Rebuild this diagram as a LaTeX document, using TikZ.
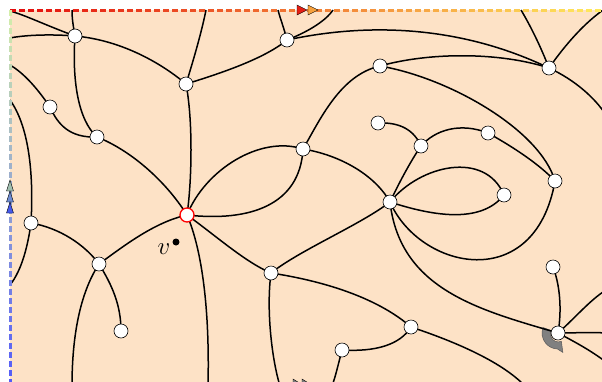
\documentclass[tikz,border=0pt]{standalone}
\usepackage{amsmath,amssymb}
\usepackage{tikz}
\usetikzlibrary{arrows.meta}

\definecolor{peach}{RGB}{253,226,198}
\definecolor{topstart}{RGB}{228,12,12}
\definecolor{topend}{RGB}{255,232,92}
\definecolor{leftstart}{RGB}{212,238,170}
\definecolor{leftend}{RGB}{84,92,248}

\begin{document}
\begin{tikzpicture}[x=1pt,y=-1pt,
    edge/.style={line width=1.5pt},
    vtx/.style={circle,draw,fill=white,line width=0.6pt,minimum size=14pt,inner sep=0pt},
    bord/.style={line width=3pt}]

\useasboundingbox (0,0) rectangle (602,381);
\clip (0,0) rectangle (602,381);

% vertices
\coordinate (a) at (75,36);
\coordinate (b) at (186,84);
\coordinate (c) at (287,40);
\coordinate (d) at (50,107);
\coordinate (e) at (97,137);
\coordinate (f) at (380,66);
\coordinate (g) at (549,68);
\coordinate (h) at (378,123);
\coordinate (i) at (421,146);
\coordinate (j) at (488,133);
\coordinate (k) at (303,149);
\coordinate (l) at (555,181);
\coordinate (m) at (390,202);
\coordinate (n) at (504,195);
\coordinate (o) at (187,215);
\coordinate (p) at (31,223);
\coordinate (q) at (99,264);
\coordinate (r) at (271,273);
\coordinate (s) at (553,267);
\coordinate (t) at (121,331);
\coordinate (u) at (411,327);
\coordinate (w) at (342,350);
\coordinate (x) at (558,333);

% free ends on the border
\coordinate (ca1) at (10,11);
\coordinate (ca2) at (10,38);
\coordinate (ca3) at (72,10);
\coordinate (cb) at (206,10);
\coordinate (cc1) at (278,10);
\coordinate (cc2) at (333,10);
\coordinate (cg1) at (521,10);
\coordinate (cg2) at (606,8);
\coordinate (cg3) at (606,115);
\coordinate (cd) at (10,65);
\coordinate (cp1) at (10,100);
\coordinate (cp2) at (10,285);
\coordinate (cq) at (72,386);
\coordinate (co) at (208,386);
\coordinate (cr) at (280,386);
\coordinate (cw) at (332,386);
\coordinate (cu) at (525,386);
\coordinate (cx1) at (606,290);
\coordinate (cx2) at (606,333);
\coordinate (cx3) at (606,362);

% background
\fill[peach] (10,10) rectangle (610,390);

% turning marker at x
\filldraw[fill=gray, draw=gray!70!black, line width=0.5pt]
    ([shift={(200:8)}]x) -- ([shift={(200:16)}]x) arc (200:92:16)
    -- ([shift={(76:20)}]x) -- ([shift={(68:9)}]x) arc (68:200:8) -- cycle;

% edges
\draw[edge] (a) .. controls (45,25) and (25,15) .. (ca1);
\draw[edge] (a) .. controls (50,34) and (25,35) .. (ca2);
\draw[edge] (a) .. controls (73,25) and (72,18) .. (ca3);
\draw[edge] (a) .. controls (72,80) and (78,120) .. (e);
\draw[edge] (a) .. controls (120,40) and (160,62) .. (b);
\draw[edge] (b) .. controls (195,55) and (202,30) .. (cb);
\draw[edge] (b) .. controls (225,72) and (265,58) .. (c);
\draw[edge] (b) .. controls (193,120) and (192,180) .. (o);
\draw[edge] (c) .. controls (284,28) and (280,18) .. (cc1);
\draw[edge] (c) .. controls (305,33) and (325,22) .. (cc2);
\draw[edge] (c) .. controls (380,20) and (470,30) .. (g);
\draw[edge] (f) .. controls (430,52) and (500,52) .. (g);
\draw[edge] (f) .. controls (450,78) and (540,130) .. (l);
\draw[edge] (g) .. controls (540,45) and (530,25) .. (cg1);
\draw[edge] (g) .. controls (565,45) and (585,22) .. (cg2);
\draw[edge] (g) .. controls (575,80) and (595,98) .. (cg3);
\draw[edge] (d) .. controls (35,85) and (22,72) .. (cd);
\draw[edge] (d) .. controls (58,125) and (70,138) .. (e);
\draw[edge] (cp1) .. controls (28,125) and (34,170) .. (p);
\draw[edge] (p) .. controls (60,228) and (85,245) .. (q);
\draw[edge] (p) .. controls (28,245) and (22,270) .. (cp2);
\draw[edge] (q) .. controls (125,245) and (155,222) .. (o);
\draw[edge] (q) .. controls (112,285) and (121,305) .. (t);
\draw[edge] (q) .. controls (82,290) and (72,330) .. (cq);
\draw[edge] (e) .. controls (130,150) and (165,180) .. (o);
\draw[edge] (o) .. controls (200,245) and (210,300) .. (co);
\draw[edge] (o) .. controls (205,170) and (260,135) .. (k);
\draw[edge] (o) .. controls (250,222) and (300,205) .. (k);
\draw[edge] (o) .. controls (215,235) and (245,262) .. (r);
\draw[edge] (k) .. controls (320,120) and (340,75) .. (f);
\draw[edge] (k) .. controls (340,155) and (375,175) .. (m);
\draw[edge] (m) .. controls (360,225) and (300,250) .. (r);
\draw[edge] (r) .. controls (266,310) and (272,360) .. (cr);
\draw[edge] (r) .. controls (330,282) and (380,300) .. (u);
\draw[edge] (w) .. controls (375,352) and (400,345) .. (u);
\draw[edge] (w) .. controls (338,365) and (336,375) .. (cw);
\draw[edge] (u) .. controls (450,340) and (500,360) .. (cu);
\draw[edge] (m) .. controls (398,185) and (410,162) .. (i);
\draw[edge] (h) .. controls (400,122) and (414,130) .. (i);
\draw[edge] (i) .. controls (435,130) and (460,122) .. (j);
\draw[edge] (j) .. controls (515,148) and (540,165) .. (l);
\draw[edge] (m) .. controls (420,165) and (485,150) .. (n);
\draw[edge] (m) .. controls (430,215) and (480,225) .. (n);
\draw[edge] (m) .. controls (420,270) and (535,295) .. (l);
\draw[edge] (m) .. controls (400,290) and (480,310) .. (x);
\draw[edge] (s) .. controls (560,285) and (562,310) .. (x);
\draw[edge] (x) .. controls (575,318) and (590,300) .. (cx1);
\draw[edge] (x) .. controls (575,333) and (590,332) .. (cx2);
\draw[edge] (x) .. controls (575,342) and (590,350) .. (cx3);

% dashed border, shaded along its length
\foreach \i in {0,...,65} {
    \pgfmathtruncatemacro\pc{100-100*\i/65}
    \draw[bord, topstart!\pc!topend] (10+9*\i,10) -- ++(6,0);
}
\foreach \i in {0,...,41} {
    \pgfmathtruncatemacro\pc{100-100*\i/41}
    \draw[bord, leftstart!\pc!leftend] (10,10+9*\i) -- ++(0,6);
}

% side markers
\draw[line width=0.4pt, fill={rgb,255:red,228;green,30;blue,20}] (297,5) -- (307,10) -- (297,15) -- cycle;
\draw[line width=0.4pt, fill={rgb,255:red,246;green,160;blue,60}] (308,5) -- (318,10) -- (308,15) -- cycle;
\draw[line width=0.4pt, fill=gray] (293,379) -- (301,384) -- (293,389) -- cycle;
\draw[line width=0.4pt, fill=gray] (302,379) -- (310,384) -- (302,389) -- cycle;
\draw[line width=0.4pt, fill={rgb,255:red,160;green,190;blue,175}] (10,180) -- (13.5,191) -- (6.5,191) -- cycle;
\draw[line width=0.4pt, fill={rgb,255:red,110;green,140;blue,210}] (10,191) -- (13.5,202) -- (6.5,202) -- cycle;
\draw[line width=0.4pt, fill={rgb,255:red,70;green,90;blue,235}] (10,202) -- (13.5,213) -- (6.5,213) -- cycle;

% vertices on top
\foreach \v in {a,b,c,d,e,f,g,h,i,j,k,l,m,n,p,q,r,s,t,u,w,x}
    \node[vtx] (n\v) at (\v) {};
\node[vtx, draw=red, line width=1.3pt] (no) at (o) {};

% the point v
\fill (176,242) circle (3.5);
\node[font=\fontsize{28}{30}\selectfont] (lv) at (164,249) {$v$};

\end{tikzpicture}
\end{document}
